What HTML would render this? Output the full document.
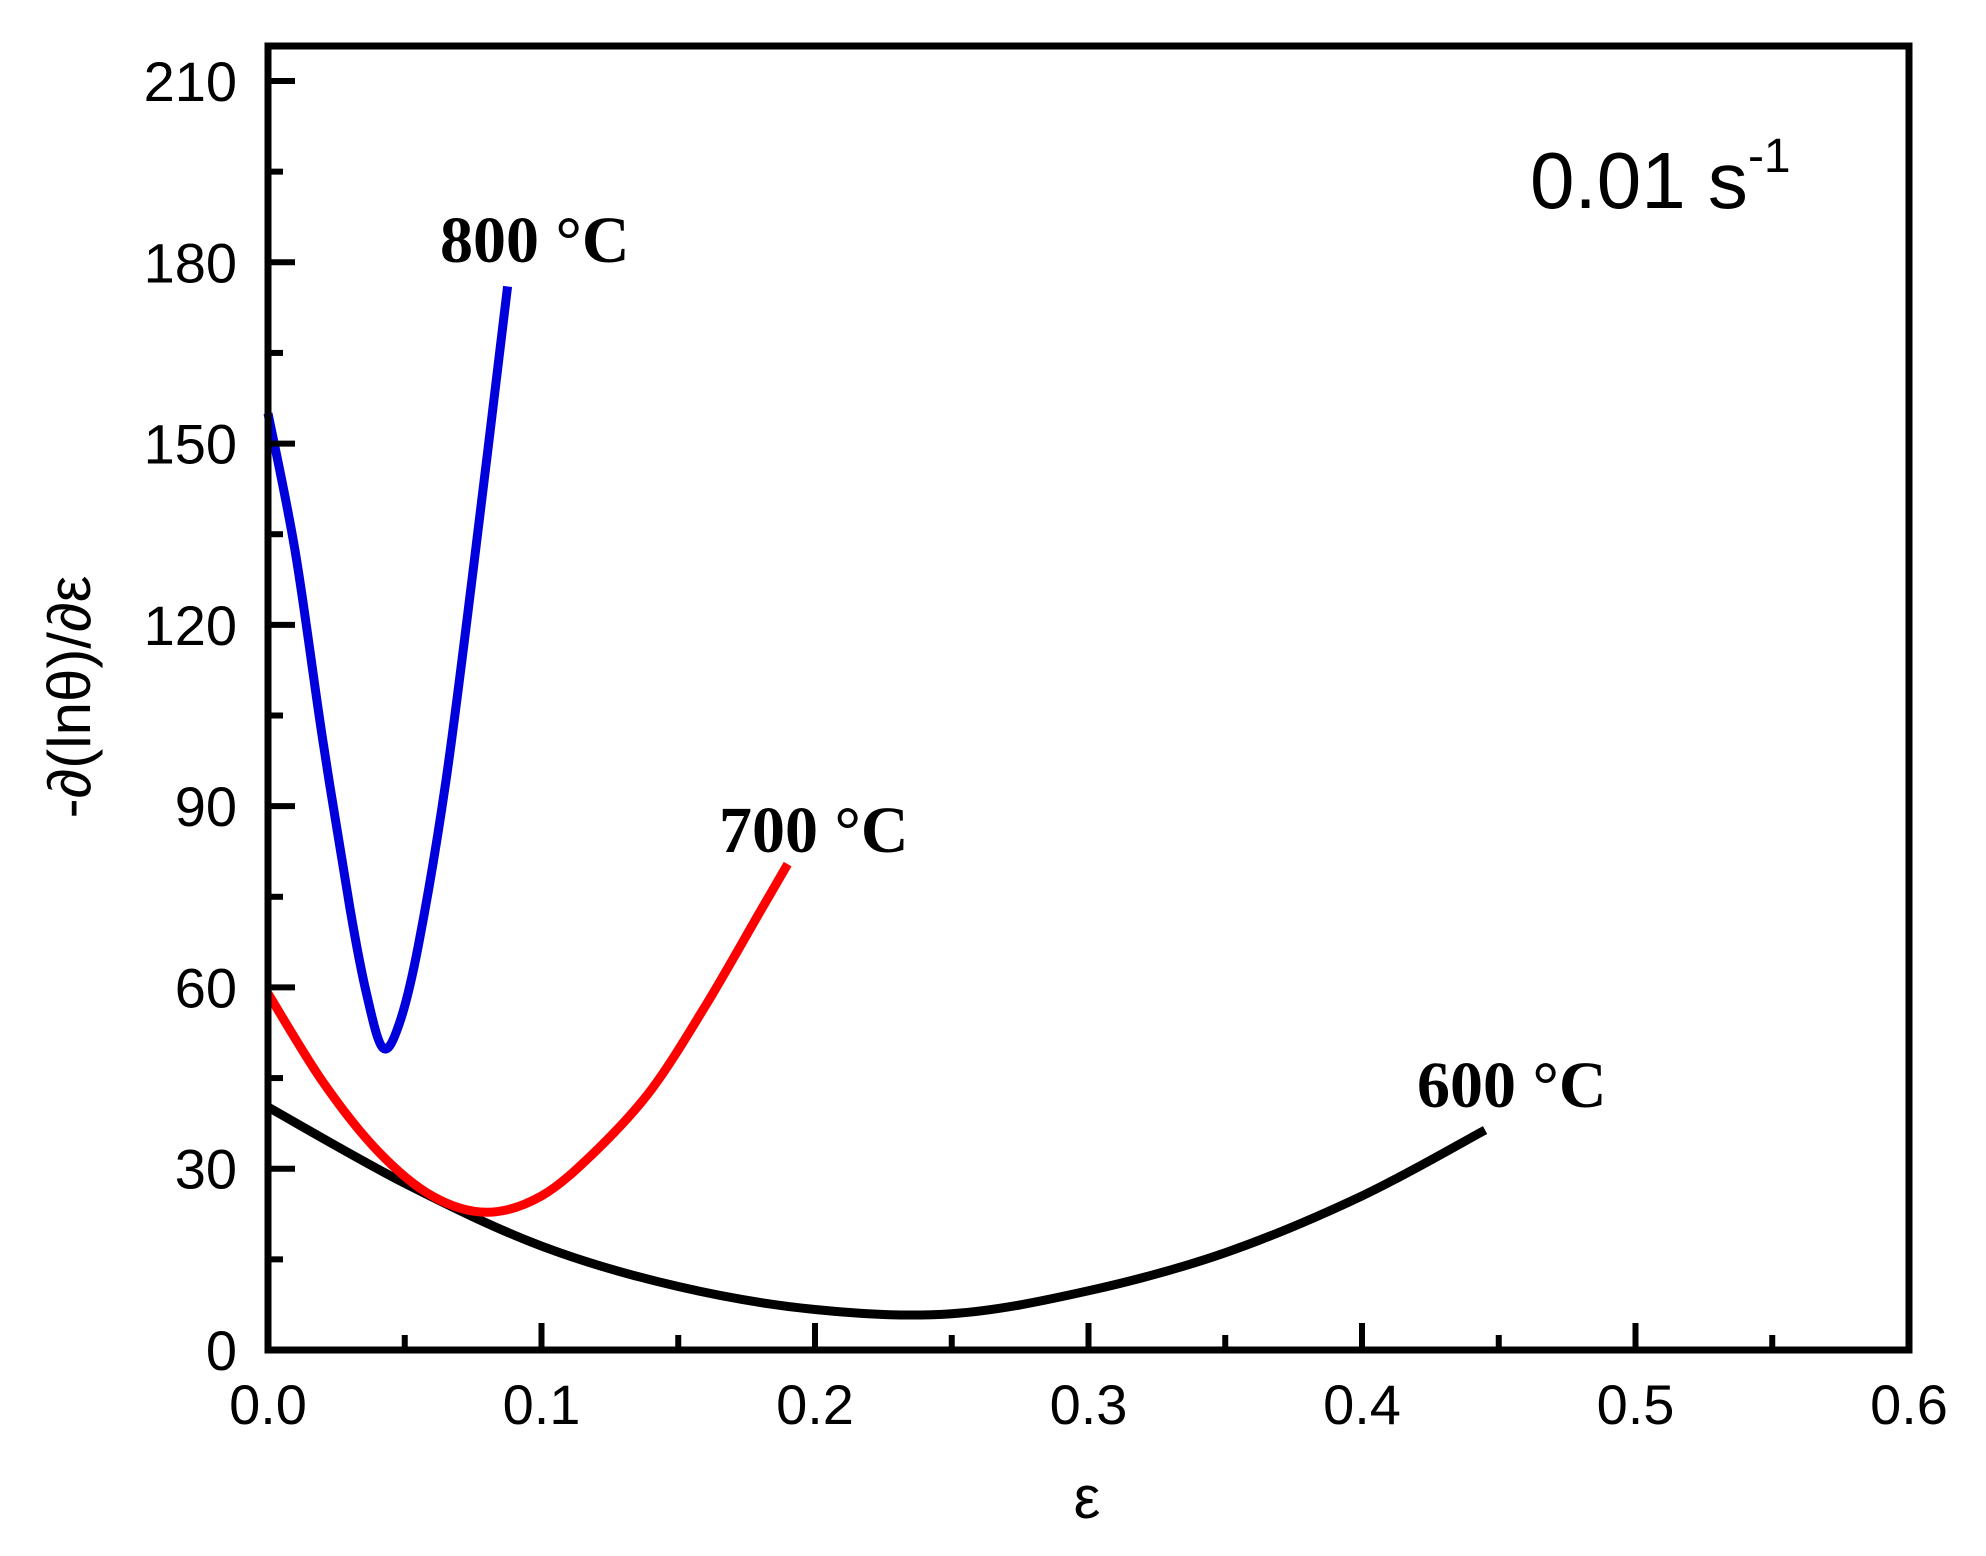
<!DOCTYPE html>
<html><head><meta charset="utf-8"><style>
html,body{margin:0;padding:0;background:#fff;}
svg{display:block;}
</style></head><body>
<svg id="chart" width="1986" height="1556" viewBox="0 0 1986 1556" xmlns="http://www.w3.org/2000/svg">
<g id="plot"></g>
</svg>
<script>
const xTicks = [0.0,0.1,0.2,0.3,0.4,0.5,0.6];
const xTickLabels = ["0.0","0.1","0.2","0.3","0.4","0.5","0.6"];
const yTicks = [0,30,60,90,120,150,180,210];
const yTickLabels = ["0","30","60","90","120","150","180","210"];
const eps800 = [0,0.01,0.02,0.03,0.036,0.042,0.048,0.055,0.065,0.075,0.0876];
const val800 = [155,132,101,73,59,50,54,67,94,129,176];
const eps700 = [0,0.02,0.04,0.06,0.08,0.1,0.12,0.14,0.16,0.18,0.19];
const val700 = [59,44.4,33,25.5,22.8,25.5,33,43,57,72.6,80.4];
const eps600 = [0,0.05,0.1,0.15,0.2,0.25,0.3,0.35,0.4,0.445];
const val600 = [40.2,27.6,17.2,10.5,6.7,6.0,9.8,16.1,25.5,36.4];

const NS="http://www.w3.org/2000/svg";
const L=268,R=1909,T=46,B=1350;
function sx(v){return L+(v-0)/0.6*(R-L);}
function sy(v){return B-(v/210)*(1350-81);}
const g=document.getElementById('plot');
function mk(tag,attrs){const e=document.createElementNS(NS,tag);for(const k in attrs)e.setAttribute(k,attrs[k]);g.appendChild(e);return e;}

function series(xs,ys,color,name){
  const pts=xs.map((x,i)=>[sx(x),sy(ys[i])]);
  let d="M"+pts[0][0]+","+pts[0][1];
  for(let i=0;i<pts.length-1;i++){
    const p0=pts[i-1]||pts[i],p1=pts[i],p2=pts[i+1],p3=pts[i+2]||p2;
    const c1x=p1[0]+(p2[0]-p0[0])/6,c1y=p1[1]+(p2[1]-p0[1])/6;
    const c2x=p2[0]-(p3[0]-p1[0])/6,c2y=p2[1]-(p3[1]-p1[1])/6;
    d+=" C"+c1x+","+c1y+" "+c2x+","+c2y+" "+p2[0]+","+p2[1];
  }
  const p=mk('path',{d:d,fill:'none',stroke:color,'stroke-width':9,'stroke-linejoin':'round'});
  
  
}
series(eps600,val600,'#000','series-600c');
series(eps700,val700,'#ff0000','series-700c');
series(eps800,val800,'#0000dd','series-800c');

const fr=mk('rect',{x:L,y:T,width:R-L,height:B-T,fill:'none',stroke:'#000','stroke-width':7});



xTicks.forEach((v,i)=>{
  const x=sx(v);
  const t=mk('line',{x1:x,y1:B,x2:x,y2:B-27,stroke:'#000','stroke-width':6});
  
  
  if(i<xTicks.length-1){
    const xm=sx(v+0.05);
    const m=mk('line',{x1:xm,y1:B,x2:xm,y2:B-15,stroke:'#000','stroke-width':6});
    
    
  }
  const lb=mk('text',{x:x,y:1424,'text-anchor':'middle','font-family':'Liberation Sans, sans-serif','font-size':56,fill:'#000'});
  lb.textContent=xTickLabels[i];
  
  
});
yTicks.forEach((v,i)=>{
  const y=sy(v);
  const t=mk('line',{x1:L,y1:y,x2:L+27,y2:y,stroke:'#000','stroke-width':6});
  
  
  if(i<yTicks.length-1){
    const ym=sy(v+15);
    const m=mk('line',{x1:L,y1:ym,x2:L+15,y2:ym,stroke:'#000','stroke-width':6});
    
    
  }
  const lb=mk('text',{x:237,y:y+20,'text-anchor':'end','font-family':'Liberation Sans, sans-serif','font-size':56,fill:'#000'});
  lb.textContent=yTickLabels[i];
  
  
});

function txt(s,attrs,name){const e=mk('text',attrs);e.textContent=s;return e;}
txt('ε',{x:1087,y:1518,'text-anchor':'middle','font-family':'Liberation Sans, sans-serif','font-size':60,fill:'#000'},'x-axis-title');
txt('-∂(lnθ)/∂ε',{x:0,y:0,transform:'translate(90,697) rotate(-90)','text-anchor':'middle','font-family':'Liberation Sans, sans-serif','font-size':60,fill:'#000'},'y-axis-title');
txt('800 °C',{x:440,y:262,'font-family':'Liberation Serif, serif','font-weight':'bold','font-size':66,fill:'#000'},'label-800c');
txt('700 °C',{x:719,y:852,'font-family':'Liberation Serif, serif','font-weight':'bold','font-size':66,fill:'#000'},'label-700c');
txt('600 °C',{x:1417,y:1107,'font-family':'Liberation Serif, serif','font-weight':'bold','font-size':66,fill:'#000'},'label-600c');
const sr=txt('0.01 s',{x:1530,y:208,'font-family':'Liberation Sans, sans-serif','font-size':80,fill:'#000'},'strain-rate-label');
const sup=document.createElementNS(NS,'tspan');
sup.setAttribute('dy','-36');sup.setAttribute('font-size','48');sup.textContent='-1';
sr.appendChild(sup);
</script>
</body></html>
